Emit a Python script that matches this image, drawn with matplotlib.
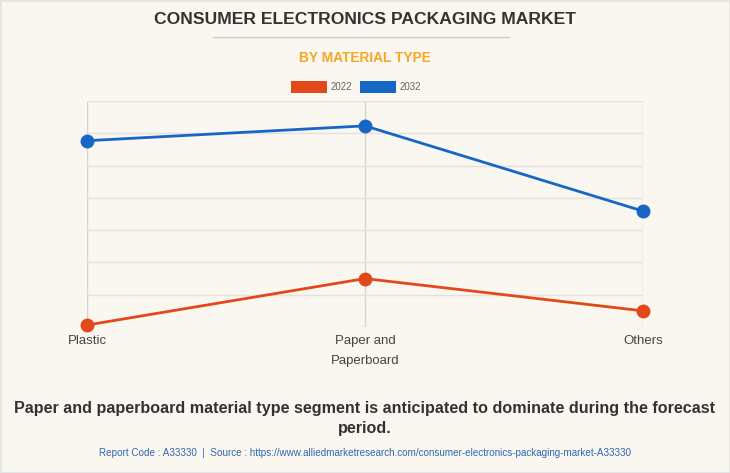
import matplotlib.pyplot as plt
from matplotlib.patches import Rectangle
from matplotlib.lines import Line2D

categories = ["Plastic", "Paper and\nPaperboard", "Others"]
years = ["2022", "2032"]
values_2022 = [0.06, 1.5, 0.5]
values_2032 = [5.77, 6.23, 3.59]

c2022 = "#E2491A"
c2032 = "#1666C5"
bg = "#F9F7F0"

plt.rcParams["font.family"] = ["Liberation Sans", "DejaVu Sans"]

fig = plt.figure(figsize=(7.3, 4.73), dpi=100, facecolor=bg)
W, H = 730, 473
ax = fig.add_axes([87 / W, 1 - 327 / H, (643 - 87) / W, (327 - 101) / H])
ax.set_facecolor(bg)

x = range(len(categories))
ax.plot(x, values_2022, color=c2022, lw=2, marker="o", ms=9, zorder=3, clip_on=False)
ax.plot(x, values_2032, color=c2032, lw=2, marker="o", ms=9, zorder=3, clip_on=False)

ax.set_xlim(0, 2)
ax.set_ylim(0, 7)
ax.set_yticks(range(8))
ax.set_yticklabels([])
ax.set_xticks(list(x))
ax.set_xticklabels(categories, fontsize=9.5, color="#444444", linespacing=1.9, va="top")
ax.tick_params(axis="both", length=0, pad=6)
ax.grid(True, color="#E3E1DB", lw=1)
ax.grid(True, axis="x", color="#D6D4CE", lw=1)
for s in ax.spines.values():
    s.set_visible(False)

fig.text(0.5, 1 - 20 / H, "CONSUMER ELECTRONICS PACKAGING MARKET", ha="center", va="center",
         fontsize=12.6, fontweight="bold", color="#333333")
fig.add_artist(Line2D([213 / W, 509 / W], [1 - 37 / H, 1 - 37 / H], color="#CCCCCC", lw=1))
fig.text(0.5, 1 - 58 / H, "BY MATERIAL TYPE", ha="center", va="center",
         fontsize=9.9, fontweight="bold", color="#F5A623")

# legend
for i, (lab, col) in enumerate(zip(years, [c2022, c2032])):
    x0 = 291 + i * 69
    fig.add_artist(Rectangle((x0 / W, 1 - 93 / H), 36 / W, 12 / H, transform=fig.transFigure,
                             facecolor=col, edgecolor="none"))
    fig.text((x0 + 40) / W, 1 - 87 / H, lab, ha="left", va="center", fontsize=7, color="#666666")

fig.text(0.5, 1 - 408 / H, "Paper and paperboard material type segment is anticipated to dominate during the forecast",
         ha="center", va="center", fontsize=11.6, fontweight="bold", color="#333333")
fig.text(0.5, 1 - 428 / H, "period.", ha="center", va="center", fontsize=11.6, fontweight="bold", color="#333333")
fig.text(0.5, 1 - 453 / H,
         "Report Code : A33330  |  Source : https://www.alliedmarketresearch.com/consumer-electronics-packaging-market-A33330",
         ha="center", va="center", fontsize=7.15, color="#2F66B0")

fig.add_artist(Rectangle((0, 0), 1, 1, transform=fig.transFigure, fill=False, edgecolor="#E4E4E4", lw=2))

fig.savefig("out.png", dpi=100, facecolor=bg)
